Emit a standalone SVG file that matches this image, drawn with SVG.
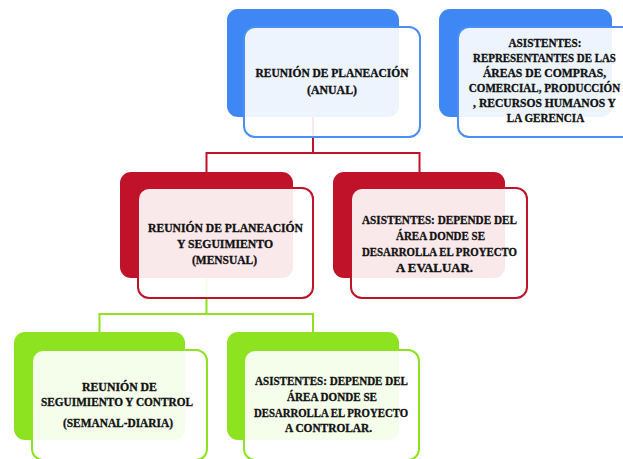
<svg xmlns="http://www.w3.org/2000/svg" width="623" height="459" viewBox="0 0 623 459">
<style>
.bk{stroke:none}
.fr{fill:#ffffff;fill-opacity:0.91;stroke-width:2}
.blue .bk{fill:#3f87f5}.blue .fr{stroke:#4a8ef6}
.red .bk{fill:#c01229}.red .fr{stroke:#c01229}
.green .bk{fill:#8ee321}.green .fr{stroke:#8ee321}
text{font-family:"Liberation Serif","Times New Roman",serif;font-weight:bold;font-size:13px;fill:#111;stroke:#111;stroke-width:0.35;text-anchor:middle}
.cn{fill:none;stroke-width:2}
</style>
<rect width="623" height="459" fill="#ffffff"/>
<g id="connectors">
<path class="cn" stroke="#c01229" d="M313 117V153M206.5 172V153H419.5V172"/>
<path class="cn" stroke="#8ee321" d="M206.5 278V314M99.5 332V314H313V332"/>
</g>
<g id="n1" class="blue">
<rect class="bk" x="227" y="9" width="172" height="108" rx="11"/>
<rect class="fr" x="244" y="27" width="176" height="110" rx="11"/>
<text x="332" y="77" textLength="153" lengthAdjust="spacingAndGlyphs">REUNIÓN DE PLANEACIÓN</text>
<text x="332" y="94" textLength="50" lengthAdjust="spacingAndGlyphs">(ANUAL)</text>
</g>
<g id="n2" class="blue">
<rect class="bk" x="439" y="9" width="173" height="108" rx="11"/>
<rect class="fr" x="458" y="27" width="176" height="110" rx="11"/>
<g transform="translate(544.5,0) scale(0.85,1)">
<text x="0.6" y="47" textLength="86" lengthAdjust="spacingAndGlyphs">ASISTENTES:</text>
<text x="0" y="62" textLength="168" lengthAdjust="spacingAndGlyphs">REPRESENTANTES DE LAS</text>
<text x="0" y="77" textLength="145" lengthAdjust="spacingAndGlyphs">ÁREAS DE COMPRAS,</text>
<text x="0" y="92" textLength="178" lengthAdjust="spacingAndGlyphs">COMERCIAL, PRODUCCIÓN</text>
<text x="0" y="107" textLength="168" lengthAdjust="spacingAndGlyphs">, RECURSOS HUMANOS Y</text>
<text x="1.2" y="122" textLength="91" lengthAdjust="spacingAndGlyphs">LA GERENCIA</text>
</g>
</g>
<g id="n3" class="red">
<rect class="bk" x="120" y="172" width="173" height="106" rx="11"/>
<rect class="fr" x="138" y="188" width="175" height="110" rx="11"/>
<text x="225.5" y="232" textLength="155" lengthAdjust="spacingAndGlyphs">REUNIÓN DE PLANEACIÓN</text>
<text x="225" y="248" textLength="96" lengthAdjust="spacingAndGlyphs">Y SEGUIMIENTO</text>
<text x="224.5" y="264" textLength="65" lengthAdjust="spacingAndGlyphs">(MENSUAL)</text>
</g>
<g id="n4" class="red">
<rect class="bk" x="333" y="172" width="172" height="106" rx="11"/>
<rect class="fr" x="351" y="188" width="176" height="110" rx="11"/>
<text x="439.5" y="224" textLength="155" lengthAdjust="spacingAndGlyphs">ASISTENTES: DEPENDE DEL</text>
<text x="440.5" y="240" textLength="89" lengthAdjust="spacingAndGlyphs">ÁREA DONDE SE</text>
<text x="439.5" y="256" textLength="155" lengthAdjust="spacingAndGlyphs">DESARROLLA EL PROYECTO</text>
<text x="434.5" y="272" textLength="77" lengthAdjust="spacingAndGlyphs">A EVALUAR.</text>
</g>
<g id="n5" class="green">
<rect class="bk" x="14" y="332" width="171" height="108" rx="11"/>
<rect class="fr" x="32" y="350" width="175" height="110" rx="11"/>
<text x="119.5" y="391" textLength="75" lengthAdjust="spacingAndGlyphs">REUNIÓN DE</text>
<text x="117" y="406" textLength="152" lengthAdjust="spacingAndGlyphs">SEGUIMIENTO Y CONTROL</text>
<text x="118" y="427" textLength="110" lengthAdjust="spacingAndGlyphs">(SEMANAL-DIARIA)</text>
</g>
<g id="n6" class="green">
<rect class="bk" x="227" y="332" width="172" height="108" rx="11"/>
<rect class="fr" x="244" y="350" width="175" height="110" rx="11"/>
<text x="331.5" y="385" textLength="153" lengthAdjust="spacingAndGlyphs">ASISTENTES: DEPENDE DEL</text>
<text x="332" y="401" textLength="90" lengthAdjust="spacingAndGlyphs">ÁREA DONDE SE</text>
<text x="331" y="417" textLength="154" lengthAdjust="spacingAndGlyphs">DESARROLLA EL PROYECTO</text>
<text x="328.5" y="432" textLength="87" lengthAdjust="spacingAndGlyphs">A CONTROLAR.</text>
</g>
</svg>
